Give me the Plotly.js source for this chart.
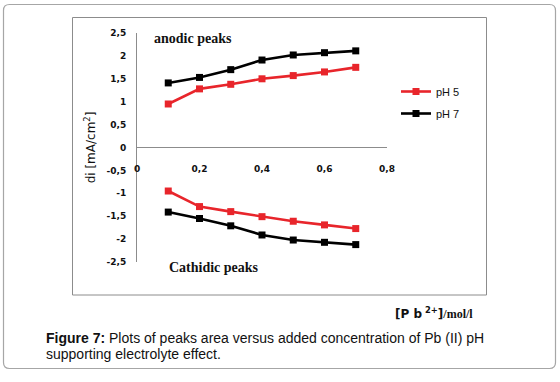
<!DOCTYPE html>
<html>
<head>
<meta charset="utf-8">
<script src="https://cdn.plot.ly/plotly-3.0.1.min.js"></script>
<style>html,body{margin:0;padding:0;background:#fff;}#chart{width:560px;height:382px;}</style>
</head>
<body>
<div id="chart"></div>
<script>
// ---- data ----
const concentration = [0.1, 0.2, 0.3, 0.4, 0.5, 0.6, 0.7];
const pH5Anodic   = [0.95, 1.28, 1.38, 1.50, 1.57, 1.65, 1.75];
const pH7Anodic   = [1.41, 1.53, 1.70, 1.91, 2.02, 2.07, 2.11];
const pH5Cathodic = [-0.95, -1.29, -1.40, -1.51, -1.61, -1.69, -1.77];
const pH7Cathodic = [-1.41, -1.55, -1.71, -1.91, -2.02, -2.07, -2.12];
const xTickVals = [0, 0.2, 0.4, 0.6, 0.8];
const xTickLabels = ['0', '0,2', '0,4', '0,6', '0,8'];
const yTickVals = [2.5, 2, 1.5, 1, 0.5, 0, -0.5, -1, -1.5, -2, -2.5];
const yTickLabels = ['2,5', '2', '1,5', '1', '0,5', '0', '-0,5', '-1', '-1,5', '-2', '-2,5'];
const seriesNames = ['pH 5', 'pH 7'];

// ---- layout helpers (pixel -> paper) ----
const W = 560, H = 382;
const M = {l: 137, r: 173, t: 33, b: 120};
const PW = W - M.l - M.r, PH = H - M.t - M.b;
const px = v => (v - M.l) / PW;
const py = v => (H - M.b - v) / PH;

const RED = '#e8252b', BLACK = '#000000';
function tr(y, name, color, show) {
  return {
    x: concentration, y: y, name: name, legendgroup: name, showlegend: show,
    type: 'scatter', mode: 'lines+markers',
    line: {color: color, width: 2.6},
    marker: {symbol: 'square', size: 7, color: color}
  };
}
const data = [
  tr(pH5Anodic, seriesNames[0], RED, true),
  tr(pH5Cathodic, seriesNames[0], RED, false),
  tr(pH7Anodic, seriesNames[1], BLACK, true),
  tr(pH7Cathodic, seriesNames[1], BLACK, false)
];

function roundRect(x0, y0, x1, y1, r) {
  const rx = r / PW, ry = r / PH;
  const X0 = px(x0), X1 = px(x1), Y0 = py(y0), Y1 = py(y1);
  return `M${X0 + rx},${Y0} L${X1 - rx},${Y0} Q${X1},${Y0} ${X1},${Y0 - ry} L${X1},${Y1 + ry} Q${X1},${Y1} ${X1 - rx},${Y1} L${X0 + rx},${Y1} Q${X0},${Y1} ${X0},${Y1 + ry} L${X0},${Y0 - ry} Q${X0},${Y0} ${X0 + rx},${Y0} Z`;
}

const tickFont = {family: 'DejaVu Sans', size: 9, color: '#111', weight: 'bold'};
const layout = {
  width: W, height: H,
  margin: M,
  paper_bgcolor: '#fff', plot_bgcolor: 'rgba(0,0,0,0)',
  showlegend: true,
  xaxis: {
    range: [0, 0.8], anchor: 'free', position: py(162),
    showline: false, showgrid: false, zeroline: false, ticks: '',
    tickvals: xTickVals, ticktext: xTickLabels, tickfont: tickFont,
    fixedrange: true
  },
  yaxis: {
    range: [-2.5, 2.5], showline: true, linecolor: '#8c8c8c', linewidth: 1,
    showgrid: false, zeroline: true, zerolinecolor: '#8c8c8c', zerolinewidth: 1,
    ticks: '', tickvals: yTickVals, ticktext: yTickLabels, tickfont: tickFont,
    ticklabelstandoff: 8,
    title: {text: 'di [mA/cm<sup>2</sup>]', font: {family: 'DejaVu Sans', size: 12, color: '#111'}, standoff: 8},
    fixedrange: true
  },
  legend: {
    x: px(396), y: py(77), xanchor: 'left', yanchor: 'top',
    font: {family: 'Liberation Sans', size: 11, color: '#111'},
    bgcolor: 'rgba(0,0,0,0)', tracegroupgap: 3, traceorder: 'grouped'
  },
  shapes: [
    {type: 'path', xref: 'paper', yref: 'paper', path: roundRect(3.5, 4.5, 555.5, 368.5, 6), line: {color: '#a6a6a6', width: 1.2}, layer: 'below'},
    {type: 'rect', xref: 'paper', yref: 'paper', x0: px(72.5), x1: px(486.5), y0: py(17.5), y1: py(295), line: {color: '#8c8c8c', width: 1}, layer: 'below'}
  ],
  annotations: [
    {text: '<b>anodic peaks</b>', xref: 'paper', yref: 'paper', x: px(152), y: py(39), xanchor: 'left', yanchor: 'middle', showarrow: false,
     font: {family: 'Liberation Serif', size: 14, color: '#111'}},
    {text: '<b>Cathidic peaks</b>', xref: 'paper', yref: 'paper', x: px(167), y: py(267), xanchor: 'left', yanchor: 'middle', showarrow: false,
     font: {family: 'Liberation Serif', size: 14, color: '#111'}},
    {text: '<b>[P b<sup> 2+</sup>]</b><span style="font-family:Liberation Serif"><b>/mol/l</b></span>', xref: 'paper', yref: 'paper', x: px(393), y: py(313), xanchor: 'left', yanchor: 'middle', showarrow: false,
     font: {family: 'DejaVu Sans', size: 12, color: '#111'}},
    {text: '<b>Figure 7:</b> Plots of peaks area versus added concentration of Pb (II) pH', xref: 'paper', yref: 'paper', x: px(44), y: py(338), xanchor: 'left', yanchor: 'middle', showarrow: false,
     font: {family: 'Liberation Sans', size: 14, color: '#111'}},
    {text: 'supporting electrolyte effect.', xref: 'paper', yref: 'paper', x: px(44), y: py(354), xanchor: 'left', yanchor: 'middle', showarrow: false,
     font: {family: 'Liberation Sans', size: 14, color: '#111'}}
  ]
};
Plotly.newPlot('chart', data, layout, {displayModeBar: false, staticPlot: true});
</script>
</body>
</html>
